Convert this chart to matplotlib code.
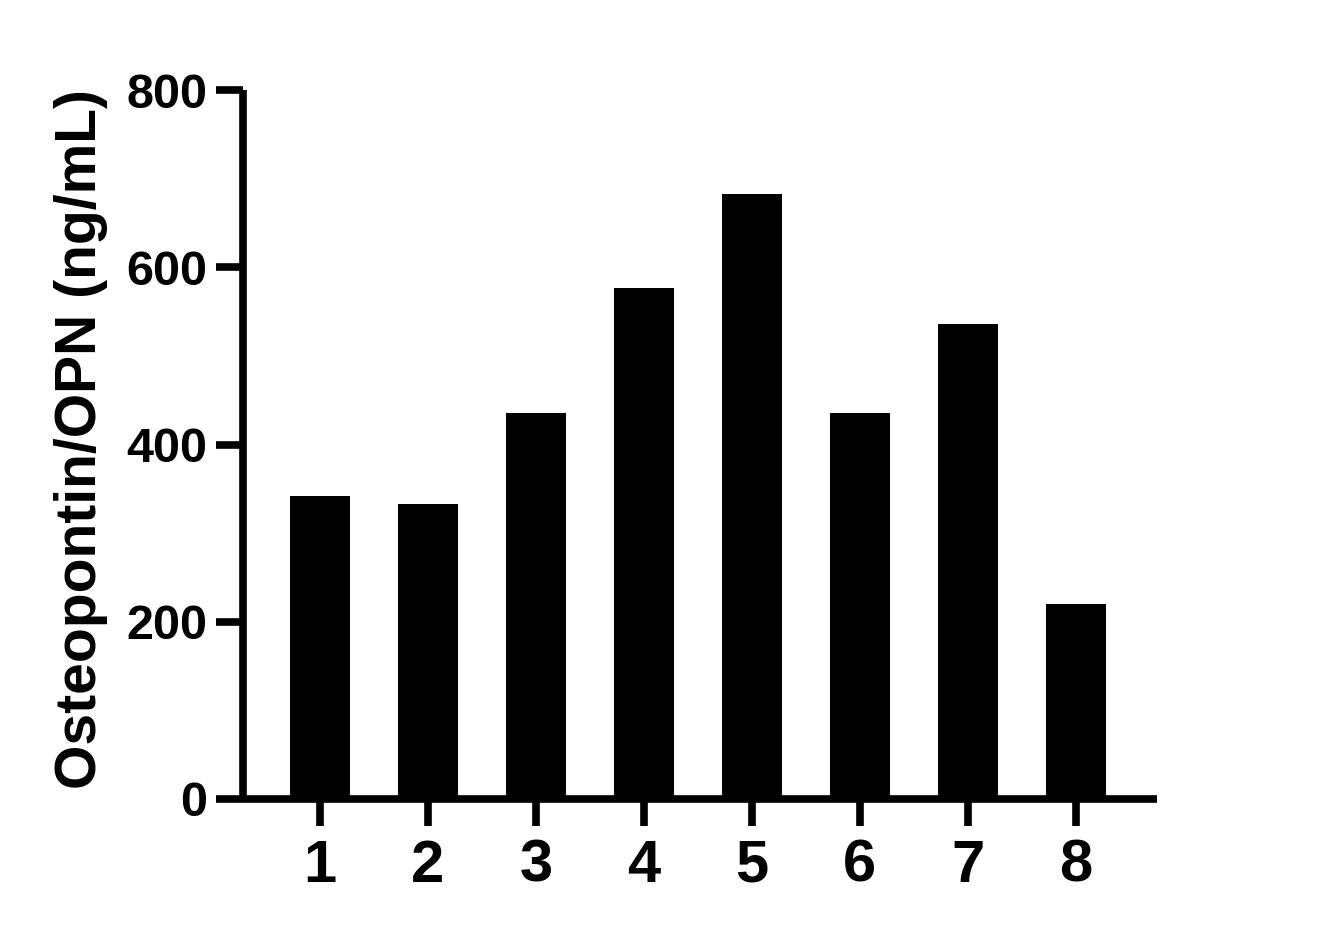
import matplotlib
matplotlib.use("Agg")
import matplotlib.pyplot as plt
import numpy as np

plt.rcParams['font.family'] = ['Liberation Sans', 'DejaVu Sans']
plt.rcParams['font.weight'] = 'bold'

groups = ['1', '2', '3', '4', '5', '6', '7', '8']
opn = [342, 333, 435, 577, 683, 436, 536, 220]

fig = plt.figure(figsize=(13.34, 9.39), dpi=100)
ax = fig.add_axes([243 / 1334, 1 - 799 / 939, (1157 - 243) / 1334, (799 - 90) / 939])

x = np.arange(len(groups))
ax.bar(x, opn, width=0.556, color='black', zorder=1)

ax.set_xlim(-0.71, 7.75)
ax.set_ylim(0, 800)
ax.set_yticks([0, 200, 400, 600, 800])
ax.set_xticks(x)
ax.set_xticklabels(groups)

for s in ['top', 'right']:
    ax.spines[s].set_visible(False)
for s in ['left', 'bottom']:
    ax.spines[s].set_linewidth(5.5)
    ax.spines[s].set_capstyle('butt')

ax.tick_params(axis='y', length=19.5, width=5.5, labelsize=35, pad=6)
ax.tick_params(axis='x', length=19.5, width=5.5, labelsize=43, pad=9)
for lab in ax.get_xticklabels() + ax.get_yticklabels():
    lab.set_fontweight('bold')

ax.set_ylabel('Osteopontin/OPN (ng/mL)', fontsize=41, fontweight='bold')
ax.yaxis.set_label_coords(-0.148, 0.508)

fig.savefig('out.png', dpi=100)
